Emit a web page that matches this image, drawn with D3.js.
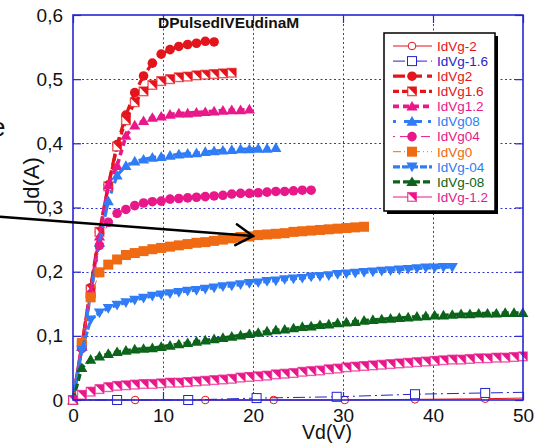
<!DOCTYPE html>
<html>
<head>
<meta charset="utf-8">
<script src="https://cdn.jsdelivr.net/npm/d3@7"></script>
<style>
  body { margin: 0; background: #fff; }
  svg { display: block; font-family: Arial, "Liberation Sans", sans-serif; }
</style>
</head>
<body>
<svg id="chart" width="548" height="443"></svg>
<script>
// Drain voltage sampling shared by the pulsed sweeps (V)
const vdGrid = [0, 0.98, 1.96, 2.94, 3.92, 4.9, 5.88, 6.86, 7.84, 8.82, 9.8, 10.78, 11.76,
  12.74, 13.72, 14.7, 15.68, 16.66, 17.64, 18.62, 19.6, 20.58, 21.56, 22.54, 23.52, 24.5,
  25.48, 26.46, 27.44, 28.42, 29.4, 30.38, 31.36, 32.34, 33.32, 34.3, 35.28, 36.26, 37.24,
  38.22, 39.2, 40.18, 41.16, 42.14, 43.12, 44.1, 45.08, 46.06, 47.04, 48.02, 49, 49.98];

// Pinched-off sweeps, recorded on their own sparse grids
const vdVgm2 = [0, 6.9, 14.7, 22.3, 30.2, 38, 45.8, 50];
const idVgm2 = [0, 0, 0, 0, 0, 0.001, 0.002, 0.003];
const vdVgm16 = [0, 4.9, 12.8, 20.4, 29.3, 38, 45.8, 50];
const idVgm16 = [0, 0, 0, 0.003, 0.005, 0.009, 0.011, 0.012];

// Drain current (A) for each gate voltage, sampled on vdGrid
const idVg2 = [0, 0.085, 0.175, 0.262, 0.335, 0.398, 0.444, 0.479, 0.505, 0.525, 0.539,
  0.546, 0.551, 0.554, 0.556, 0.559, 0.558];
const idVg16 = [0, 0.085, 0.172, 0.262, 0.333, 0.395, 0.436, 0.464, 0.481, 0.491, 0.497,
  0.5, 0.503, 0.504, 0.506, 0.507, 0.508, 0.509, 0.51];
const idVg12 = [0, 0.083, 0.168, 0.255, 0.335, 0.365, 0.412, 0.428, 0.435, 0.44, 0.442,
  0.445, 0.447, 0.447, 0.448, 0.449, 0.45, 0.451, 0.452, 0.452, 0.453];
const idVg08 = [0, 0.083, 0.165, 0.245, 0.31, 0.35, 0.365, 0.372, 0.375, 0.378, 0.379,
  0.381, 0.383, 0.384, 0.385, 0.387, 0.388, 0.389, 0.39, 0.391, 0.391, 0.392, 0.392, 0.393];
const idVg04 = [0, 0.08, 0.165, 0.241, 0.277, 0.291, 0.297, 0.303, 0.307, 0.309, 0.31,
  0.313, 0.314, 0.315, 0.316, 0.317, 0.318, 0.319, 0.321, 0.322, 0.322, 0.323, 0.324,
  0.325, 0.325, 0.326, 0.327, 0.327];
const idVg0 = [0, 0.089, 0.16, 0.199, 0.211, 0.219, 0.226, 0.229, 0.232, 0.235, 0.237,
  0.239, 0.241, 0.243, 0.245, 0.246, 0.248, 0.25, 0.252, 0.254, 0.255, 0.257, 0.258,
  0.259, 0.26, 0.262, 0.263, 0.264, 0.265, 0.266, 0.267, 0.268, 0.269, 0.27];
const idVgm04 = [0, 0.078, 0.125, 0.136, 0.143, 0.148, 0.152, 0.156, 0.159, 0.162, 0.164,
  0.166, 0.168, 0.17, 0.171, 0.173, 0.175, 0.177, 0.178, 0.18, 0.182, 0.183, 0.185, 0.186,
  0.188, 0.189, 0.19, 0.192, 0.193, 0.194, 0.196, 0.197, 0.198, 0.199, 0.2, 0.201, 0.202,
  0.203, 0.204, 0.205, 0.206, 0.206, 0.207, 0.207];
const idVgm08 = [0, 0.05, 0.063, 0.068, 0.072, 0.075, 0.077, 0.079, 0.08, 0.081, 0.083,
  0.085, 0.087, 0.089, 0.091, 0.093, 0.095, 0.097, 0.099, 0.101, 0.103, 0.105, 0.107,
  0.109, 0.11, 0.112, 0.114, 0.115, 0.117, 0.118, 0.12, 0.121, 0.122, 0.124, 0.125, 0.126,
  0.127, 0.128, 0.129, 0.13, 0.131, 0.132, 0.132, 0.133, 0.134, 0.134, 0.135, 0.135,
  0.135, 0.136, 0.136, 0.136];
const idVgm12 = [0, 0.008, 0.013, 0.017, 0.02, 0.022, 0.023, 0.024, 0.025, 0.025, 0.026,
  0.027, 0.027, 0.028, 0.029, 0.03, 0.031, 0.032, 0.033, 0.035, 0.036, 0.037, 0.038, 0.04,
  0.041, 0.042, 0.044, 0.045, 0.046, 0.048, 0.049, 0.051, 0.052, 0.053, 0.054, 0.055,
  0.056, 0.057, 0.058, 0.059, 0.06, 0.061, 0.062, 0.063, 0.063, 0.064, 0.065, 0.065,
  0.066, 0.066, 0.067, 0.068];

const seriesNames = ["IdVg-2", "IdVg-1.6", "IdVg2", "IdVg1.6", "IdVg1.2", "IdVg08",
  "IdVg04", "IdVg0", "IdVg-04", "IdVg-08", "IdVg-1.2"];

// Axis ticks
const xTicks = [0, 10, 20, 30, 40, 50];
const yTicks = [0, 0.1, 0.2, 0.3, 0.4, 0.5, 0.6];
const yTickLabels = ["0", "0,1", "0,2", "0,3", "0,4", "0,5", "0,6"];

// Annotation arrow, in data units (Vd, Id)
const arrowFrom = [-8.1, 0.2855];
const arrowTo = [20, 0.2555];

// ---- styles ----
const RED = "#e3141b", BLUE = "#2424c8", LBLUE = "#2f7cf6", MAG = "#e8178a",
      ORANGE = "#ef6a12", GREEN = "#0b6419";

const styles = [
  { color: RED,    width: 1,   dash: null,          marker: "circleOpen", skipLast: true },
  { color: BLUE,   width: 1,   dash: "12,4,2,4",    marker: "squareOpen", skipLast: true },
  { color: RED,    width: 3.2, dash: "12,5",        marker: "circle" },
  { color: RED,    width: 3.2, dash: "6,3",         marker: "halfSquare" },
  { color: MAG,    width: 3.6, dash: "6,4",         marker: "triUp" },
  { color: LBLUE,  width: 3.2, dash: "3,8,18,6",    marker: "triUp" },
  { color: MAG,    width: 1,   dash: "2,5,9,5",     marker: "circle" },
  { color: ORANGE, width: 1,   dash: "8,3,1,3,1,3", marker: "square" },
  { color: LBLUE,  width: 3.2, dash: "7,2",         marker: "triDown" },
  { color: GREEN,  width: 3.2, dash: "7,3",         marker: "triUp" },
  { color: MAG,    width: 1,   dash: null,          marker: "halfSquare" }
];

const seriesData = [
  [vdVgm2, idVgm2], [vdVgm16, idVgm16],
  [vdGrid, idVg2], [vdGrid, idVg16], [vdGrid, idVg12], [vdGrid, idVg08],
  [vdGrid, idVg04], [vdGrid, idVg0], [vdGrid, idVgm04], [vdGrid, idVgm08], [vdGrid, idVgm12]
];

const series = seriesNames.map((name, i) => ({
  name,
  points: seriesData[i][1].map((v, k) => ({ vd: seriesData[i][0][k], id: v })),
  ...styles[i]
}));

// ---- layout ----
const svg = d3.select("#chart");
const plot = { left: 73, top: 15, right: 523, bottom: 400 };
const FRAME = "#2626d2";

const x = d3.scaleLinear().domain([0, 50]).range([plot.left, plot.right]);
const y = d3.scaleLinear().domain([0, 0.6]).range([plot.bottom, plot.top]);

svg.append("rect").attr("width", 548).attr("height", 443).attr("fill", "#fff");

// grid
const grid = svg.append("g").attr("stroke", "#3535cf").attr("stroke-width", 1)
  .attr("stroke-dasharray", "2,2.5");
grid.selectAll("line.v").data(xTicks.slice(1, -1)).join("line")
  .attr("x1", d => x(d) + 0.5).attr("x2", d => x(d) + 0.5)
  .attr("y1", plot.top).attr("y2", plot.bottom);
grid.selectAll("line.h").data(yTicks.slice(1, -1)).join("line")
  .attr("y1", d => Math.round(y(d)) + 0.5).attr("y2", d => Math.round(y(d)) + 0.5)
  .attr("x1", plot.left).attr("x2", plot.right);

// axes with inward ticks
function styleAxis(g, labels) {
  g.select(".domain").remove();
  g.selectAll(".tick line").attr("stroke", FRAME).attr("stroke-width", 1.2);
  g.selectAll(".tick text").attr("fill", "#111").attr("font-size", 19)
    .attr("font-family", "Arial, 'Liberation Sans', sans-serif");
  if (!labels) g.selectAll(".tick text").remove();
}
svg.append("g").attr("transform", `translate(0,${plot.bottom})`)
  .call(d3.axisBottom(x).tickValues(xTicks).tickSize(-8).tickPadding(8.5).tickFormat(d3.format("d")))
  .call(g => styleAxis(g, true));
svg.append("g").attr("transform", `translate(0,${plot.top})`)
  .call(d3.axisTop(x).tickValues(xTicks).tickSize(-8))
  .call(g => styleAxis(g, false));
svg.append("g").attr("transform", `translate(${plot.left},0)`)
  .call(d3.axisLeft(y).tickValues(yTicks).tickSize(-8).tickPadding(10)
    .tickFormat((d, i) => yTickLabels[i]))
  .call(g => styleAxis(g, true));
svg.append("g").attr("transform", `translate(${plot.right},0)`)
  .call(d3.axisRight(y).tickValues(yTicks).tickSize(-8))
  .call(g => styleAxis(g, false));

// marker drawing
function drawMarker(g, shape, color) {
  switch (shape) {
    case "circleOpen":
      g.append("circle").attr("r", 3.8).attr("fill", "#fff").attr("stroke", color).attr("stroke-width", 1);
      break;
    case "squareOpen":
      g.append("rect").attr("x", -4.5).attr("y", -4.5).attr("width", 9).attr("height", 9)
        .attr("fill", "#fff").attr("stroke", color).attr("stroke-width", 1);
      break;
    case "circle":
      g.append("circle").attr("r", 4.8).attr("fill", color);
      break;
    case "square":
      g.append("rect").attr("x", -5).attr("y", -5).attr("width", 10).attr("height", 10).attr("fill", color);
      break;
    case "halfSquare":
      g.append("rect").attr("x", -4.3).attr("y", -4.3).attr("width", 8.6).attr("height", 8.6)
        .attr("fill", "#fff").attr("stroke", color).attr("stroke-opacity", 0.7).attr("stroke-width", 1.4);
      g.append("path").attr("d", "M-4.3,-4.3L4.3,-4.3L4.3,4.3Z").attr("fill", color);
      break;
    case "triUp":
      g.append("path").attr("d", "M0,-5.5L5.6,4.2L-5.6,4.2Z").attr("fill", color);
      break;
    case "triDown":
      g.append("path").attr("d", "M0,5.5L5.6,-4.2L-5.6,-4.2Z").attr("fill", color);
      break;
  }
}

// curves
const line = d3.line().x(d => x(d.vd)).y(d => y(d.id));
const curves = svg.append("g");
series.forEach(s => {
  const g = curves.append("g");
  g.append("path").attr("d", line(s.points)).attr("fill", "none")
    .attr("stroke", s.color).attr("stroke-width", s.width)
    .attr("stroke-dasharray", s.dash).attr("stroke-linejoin", "round");
  const pts = s.skipLast ? s.points.slice(0, -1) : s.points;
  g.selectAll("g.m").data(pts).join("g")
    .attr("transform", d => `translate(${x(d.vd)},${y(d.id)})`)
    .each(function () { drawMarker(d3.select(this), s.marker, s.color); });
});

// frame
svg.append("rect").attr("x", plot.left).attr("y", plot.top)
  .attr("width", plot.right - plot.left).attr("height", plot.bottom - plot.top)
  .attr("fill", "none").attr("stroke", FRAME).attr("stroke-width", 1.6);

// title
svg.append("text").attr("x", 158).attr("y", 28).attr("font-weight", "bold")
  .attr("font-size", 15.5).attr("fill", "#111").text("DPulsedIVEudinaM");

// axis titles
svg.append("text").attr("x", 327).attr("y", 439).attr("text-anchor", "middle")
  .attr("font-size", 19.5).attr("fill", "#111").text("Vd(V)");
svg.append("text").attr("transform", "translate(39,181) rotate(-90)")
  .attr("text-anchor", "middle").attr("font-size", 22).attr("fill", "#111").text("Id(A)");
svg.append("text").attr("x", -9).attr("y", 136).attr("font-size", 26).attr("fill", "#111").text("e");

// legend
const lg = svg.append("g");
const box = { x: 384, y: 33, w: 111, h: 178 };
lg.append("rect").attr("x", box.x + 3).attr("y", box.y + 3).attr("width", box.w).attr("height", box.h).attr("fill", "#000");
lg.append("rect").attr("x", box.x).attr("y", box.y).attr("width", box.w).attr("height", box.h)
  .attr("fill", "#fff").attr("stroke", "#000").attr("stroke-width", 1.5);
series.forEach((s, i) => {
  const yy = 46 + i * 15.1;
  const row = lg.append("g").attr("transform", `translate(0,${yy})`);
  row.append("line").attr("x1", 393).attr("x2", 432).attr("y1", 0).attr("y2", 0)
    .attr("stroke", s.color).attr("stroke-width", s.width).attr("stroke-dasharray", s.dash);
  drawMarker(row.append("g").attr("transform", "translate(412,0)"), s.marker, s.color);
  row.append("text").attr("x", 437).attr("y", 0).attr("dy", "0.36em")
    .attr("font-size", 13.5).attr("fill", s.color).text(s.name);
});

// annotation arrow
const ax0 = x(arrowFrom[0]), ay0 = y(arrowFrom[1]), ax1 = x(arrowTo[0]), ay1 = y(arrowTo[1]);
const ang = Math.atan2(ay1 - ay0, ax1 - ax0);
const head = 20, spread = 0.55;
const arrow = svg.append("g").attr("stroke", "#000").attr("stroke-width", 2.4).attr("fill", "none")
  .attr("stroke-linecap", "round");
arrow.append("line").attr("x1", ax0).attr("y1", ay0).attr("x2", ax1).attr("y2", ay1);
arrow.append("polyline").attr("points", [
  [ax1 - head * Math.cos(ang - spread), ay1 - head * Math.sin(ang - spread)],
  [ax1, ay1],
  [ax1 - head * Math.cos(ang + spread), ay1 - head * Math.sin(ang + spread)]
].map(p => p.join(",")).join(" "));
</script>
</body>
</html>
